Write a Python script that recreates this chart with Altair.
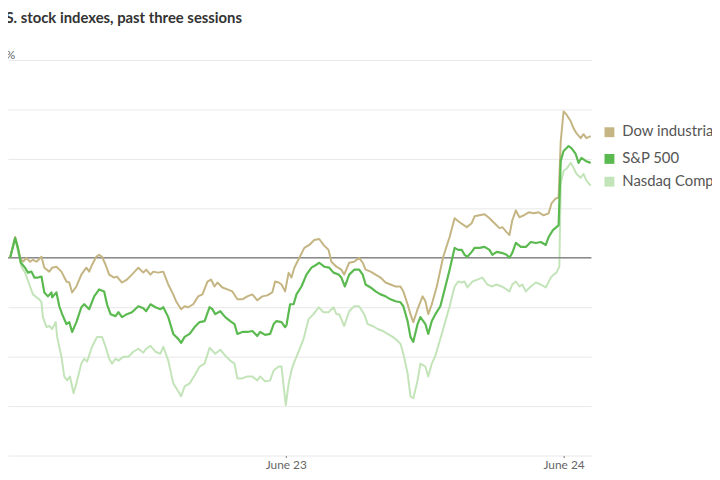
import altair as alt
import pandas as pd

TITLE = "U.S. stock indexes, past three sessions"
SERIES = ["Dow industrials", "S&P 500", "Nasdaq Composite"]
COLORS = ["#c4b583", "#5ab94f", "#c3e4b9"]

# trading minutes since the first session's open, cumulative % change
dow_t = [3, 10, 12, 17, 21, 26, 31, 35, 40, 47, 51, 58, 62, 68, 75, 82, 86, 90, 96, 103,
         110, 114, 118, 124, 128, 132, 137, 142, 149, 153, 160, 167, 174, 183, 190, 194, 200, 204, 211, 218,
         225, 232, 236, 243, 248, 253, 260, 267, 273, 280, 285, 290, 294, 301, 308, 315, 322, 329, 336, 343,
         350, 357, 364, 371, 375, 380, 384, 389, 394, 398, 402, 409, 416, 423, 430, 437, 443, 450, 454, 461,
         468, 472, 479, 486, 493, 498, 502, 509, 516, 523, 530, 537, 544, 551, 555, 561, 565, 569, 575, 582,
         586, 590, 595, 602, 611, 620, 627, 634, 644, 651, 655, 662, 669, 676, 683, 690, 694, 700, 704, 708,
         713, 718, 724, 731, 738, 745, 752, 759, 763, 769, 773, 776, 780, 784, 790, 794, 798, 804, 808, 812, 818]
dow_v = [0.00, 0.21, 0.16, 0.00, -0.04, 0.00, -0.04, -0.02, -0.04, 0.01, -0.10, -0.14, -0.10, -0.09, -0.14, -0.24, -0.25, -0.35, -0.29, -0.17,
         -0.10, -0.14, -0.07, 0.01, 0.03, 0.01, -0.07, -0.17, -0.20, -0.19, -0.25, -0.22, -0.17, -0.10, -0.15, -0.12, -0.17, -0.14, -0.15, -0.14,
         -0.27, -0.37, -0.44, -0.52, -0.49, -0.50, -0.47, -0.39, -0.37, -0.24, -0.22, -0.29, -0.25, -0.30, -0.32, -0.34, -0.42, -0.42, -0.39, -0.37,
         -0.43, -0.39, -0.38, -0.35, -0.24, -0.25, -0.27, -0.34, -0.15, -0.20, -0.10, 0.00, 0.10, 0.13, 0.18, 0.19, 0.13, 0.08, -0.04, -0.09,
         -0.12, -0.17, -0.05, -0.04, 0.00, -0.05, -0.12, -0.14, -0.17, -0.20, -0.25, -0.27, -0.29, -0.29, -0.34, -0.47, -0.57, -0.65, -0.52, -0.39,
         -0.44, -0.57, -0.47, -0.29, 0.01, 0.21, 0.40, 0.36, 0.31, 0.35, 0.42, 0.43, 0.44, 0.40, 0.35, 0.30, 0.31, 0.26, 0.23, 0.38,
         0.48, 0.41, 0.43, 0.46, 0.45, 0.46, 0.43, 0.45, 0.55, 0.60, 0.61, 1.18, 1.48, 1.45, 1.38, 1.31, 1.26, 1.21, 1.25, 1.21, 1.23]

sp_t = [3, 10, 14, 18, 24, 28, 33, 37, 42, 47, 51, 56, 61, 62, 68, 72, 76, 82, 86, 90,
        96, 103, 107, 114, 121, 128, 135, 139, 144, 151, 155, 160, 167, 174, 183, 190, 194, 200, 207, 214,
        218, 225, 232, 239, 243, 248, 255, 262, 269, 276, 283, 287, 291, 298, 305, 312, 318, 322, 329, 336,
        343, 350, 354, 361, 368, 373, 377, 384, 389, 391, 396, 401, 405, 412, 419, 426, 433, 437, 444, 451,
        457, 464, 468, 473, 479, 486, 493, 498, 502, 509, 516, 523, 530, 537, 544, 551, 555, 561, 565, 569,
        575, 579, 586, 590, 595, 600, 607, 613, 620, 627, 632, 637, 641, 645, 651, 655, 662, 669, 676, 680,
        686, 693, 700, 704, 708, 713, 720, 727, 734, 741, 748, 755, 759, 765, 770, 773, 776, 780, 787, 791,
        797, 801, 805, 811, 818]
sp_v = [0.00, 0.20, 0.10, -0.05, -0.10, -0.15, -0.14, -0.20, -0.20, -0.19, -0.35, -0.39, -0.35, -0.40, -0.35, -0.49, -0.57, -0.67, -0.65, -0.75,
        -0.65, -0.50, -0.47, -0.52, -0.39, -0.32, -0.34, -0.47, -0.57, -0.59, -0.55, -0.60, -0.57, -0.55, -0.49, -0.51, -0.54, -0.47, -0.50, -0.52,
        -0.50, -0.60, -0.77, -0.82, -0.86, -0.80, -0.77, -0.70, -0.65, -0.64, -0.50, -0.52, -0.57, -0.54, -0.60, -0.64, -0.67, -0.77, -0.75, -0.75,
        -0.74, -0.79, -0.75, -0.78, -0.77, -0.67, -0.64, -0.65, -0.70, -0.68, -0.47, -0.47, -0.37, -0.29, -0.17, -0.10, -0.07, -0.05, -0.09, -0.10,
        -0.15, -0.17, -0.20, -0.29, -0.17, -0.12, -0.12, -0.17, -0.27, -0.30, -0.34, -0.37, -0.39, -0.42, -0.44, -0.45, -0.49, -0.64, -0.80, -0.85,
        -0.67, -0.60, -0.67, -0.77, -0.64, -0.57, -0.49, -0.32, -0.12, 0.10, 0.08, 0.08, 0.03, 0.01, 0.06, 0.10, 0.10, 0.11, 0.08, 0.03,
        0.06, 0.05, 0.03, 0.00, 0.05, 0.15, 0.11, 0.11, 0.16, 0.15, 0.16, 0.13, 0.21, 0.28, 0.31, 0.33, 0.98, 1.08, 1.13, 1.11,
        1.05, 0.96, 1.01, 0.98, 0.96]

nq_t = [3, 10, 14, 19, 24, 31, 35, 40, 44, 47, 49, 54, 58, 62, 67, 69, 75, 79, 83, 87,
        92, 96, 103, 107, 111, 118, 125, 132, 137, 142, 146, 151, 155, 162, 169, 176, 183, 190, 194, 200,
        207, 214, 218, 225, 232, 239, 243, 248, 255, 262, 269, 276, 283, 287, 291, 298, 305, 312, 318, 322,
        329, 336, 343, 350, 354, 361, 368, 373, 380, 384, 387, 390, 394, 398, 401, 408, 415, 422, 429, 436,
        443, 450, 457, 461, 465, 472, 479, 486, 493, 500, 505, 512, 519, 526, 533, 540, 547, 551, 555, 561,
        565, 569, 575, 579, 586, 590, 595, 600, 611, 620, 627, 632, 637, 641, 645, 652, 659, 666, 673, 679,
        686, 693, 700, 704, 708, 713, 718, 722, 727, 734, 741, 748, 755, 762, 766, 770, 774, 776, 780, 784,
        790, 794, 798, 804, 808, 812, 818]
nq_v = [0.00, 0.20, 0.06, -0.09, -0.15, -0.29, -0.37, -0.40, -0.42, -0.45, -0.60, -0.70, -0.69, -0.72, -0.65, -0.80, -1.00, -1.20, -1.24, -1.20,
        -1.37, -1.27, -1.07, -1.02, -1.05, -0.90, -0.80, -0.80, -0.90, -1.02, -1.07, -1.02, -1.04, -1.00, -1.00, -0.95, -0.92, -0.96, -0.92, -0.89,
        -0.95, -0.97, -0.90, -1.04, -1.27, -1.35, -1.40, -1.30, -1.27, -1.19, -1.10, -1.07, -0.91, -0.94, -0.97, -0.93, -0.99, -1.04, -1.07, -1.22,
        -1.22, -1.20, -1.20, -1.24, -1.20, -1.25, -1.24, -1.14, -1.10, -1.10, -1.30, -1.49, -1.27, -1.14, -1.07, -0.95, -0.82, -0.62, -0.57, -0.50,
        -0.55, -0.55, -0.50, -0.57, -0.57, -0.69, -0.54, -0.49, -0.49, -0.57, -0.67, -0.69, -0.72, -0.74, -0.77, -0.80, -0.84, -0.87, -0.97, -1.17,
        -1.40, -1.42, -1.24, -1.07, -1.10, -1.20, -1.07, -0.99, -0.72, -0.49, -0.29, -0.24, -0.25, -0.24, -0.30, -0.24, -0.22, -0.20, -0.27, -0.29,
        -0.27, -0.29, -0.32, -0.34, -0.27, -0.24, -0.29, -0.27, -0.34, -0.29, -0.25, -0.27, -0.30, -0.20, -0.17, -0.15, -0.09, 0.75, 0.88, 0.90,
        0.96, 0.91, 0.85, 0.81, 0.85, 0.78, 0.73]

tick_minutes = [390, 780]
tick_labels = ["June 23", "June 24"]
y_ticks = [-2, -1.5, -1, -0.5, 0, 0.5, 1, 1.5, 2]
zero_line = [0]

frames = []
for name, ts, vs in [(SERIES[0], dow_t, dow_v), (SERIES[1], sp_t, sp_v), (SERIES[2], nq_t, nq_v)]:
    frames.append(pd.DataFrame({"t": ts, "v": vs, "series": name}))
lines = pd.concat(frames, ignore_index=True)
ends = pd.DataFrame([f.iloc[-1] for f in frames]).reset_index(drop=True)

FONT = "Lato"
x_label_expr = " : ".join(
    [f"datum.value == {m} ? '{lab}'" for m, lab in zip(tick_minutes, tick_labels)] + ["''"]
)
y_label_expr = "datum.value == 2 ? '2.0%' : (datum.value == 0 ? '0' : format(datum.value, '.1f'))"

x_enc = alt.X(
    "t:Q",
    scale=alt.Scale(domain=[0, 819], nice=False, zero=False),
    axis=alt.Axis(values=tick_minutes, labelExpr=x_label_expr, grid=False, domain=False,
                  tickSize=2, tickColor="#777", labelColor="#666", labelFont=FONT,
                  labelFontSize=12, labelBaseline="alphabetic", labelPadding=11, title=None),
)
y_enc = alt.Y(
    "v:Q",
    scale=alt.Scale(domain=[-2, 2], nice=False),
    axis=alt.Axis(values=y_ticks, labelExpr=y_label_expr, grid=True, gridColor="#e8e8e8",
                  domain=False, ticks=False, tickSize=0,
                  labelAlign={"condition": {"test": "datum.value == 2", "value": "left"}, "value": "right"},
                  labelPadding=19.5,
                  labelBaseline="alphabetic", labelOffset=-2, labelColor="#666", labelFont=FONT,
                  labelFontSize=12, title=None),
)

color_scale = alt.Scale(domain=SERIES, range=COLORS)

zero = alt.Chart(pd.DataFrame({"v": zero_line})).mark_rule(color="#8a8a8a", strokeWidth=1.6).encode(y=y_enc)

def line_layer(name, width):
    return alt.Chart(lines[lines.series == name]).mark_line(strokeWidth=width, strokeJoin="round").encode(
        x=x_enc, y=y_enc, color=alt.Color("series:N", scale=color_scale, legend=None)
    )

squares = alt.Chart(ends).mark_square(size=100, xOffset=19, yOffset=-4, opacity=1).encode(
    x=x_enc, y=y_enc, color=alt.Color("series:N", scale=color_scale, legend=None)
)
texts = alt.Chart(ends).mark_text(align="left", baseline="middle", dx=32, dy=-5, fontSize=15,
                                  font=FONT, color="#555").encode(
    x=x_enc, y=y_enc, text="series:N"
)

chart = alt.layer(
    line_layer(SERIES[2], 2), zero, line_layer(SERIES[0], 2), line_layer(SERIES[1], 2.2), squares, texts
).properties(
    width=590,
    height=400,
    title=alt.TitleParams(TITLE, anchor="start", frame="group", font=FONT, fontSize=15,
                          fontWeight="bold", color="#333", offset=10, dx=-17, baseline="alphabetic"),
    autosize=alt.AutoSizeParams(type="none"),
    padding={"left": 0, "top": 50, "right": 122, "bottom": 14},
).configure_view(stroke=None)

chart.save("out.html", embed_options={"renderer": "svg", "actions": False})
